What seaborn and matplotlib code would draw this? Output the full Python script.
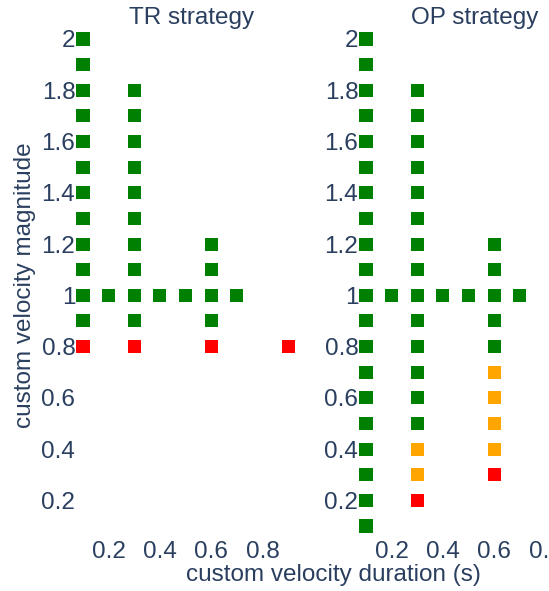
import pandas as pd
import matplotlib
matplotlib.use("Agg")
import matplotlib.pyplot as plt
import seaborn as sns

# TR strategy: one list of magnitudes per duration and outcome
TR_DURATIONS = [0.1, 0.2, 0.3, 0.4, 0.5, 0.6, 0.7, 0.9]
TR_OK = [
    [0.9, 1.0, 1.1, 1.2, 1.3, 1.4, 1.5, 1.6, 1.7, 1.8, 1.9, 2.0],
    [1.0],
    [0.9, 1.0, 1.1, 1.2, 1.3, 1.4, 1.5, 1.6, 1.7, 1.8],
    [1.0],
    [1.0],
    [0.9, 1.0, 1.1, 1.2],
    [1.0],
    [],
]
TR_WARN = [[], [], [], [], [], [], [], []]
TR_FAIL = [[0.8], [], [0.8], [], [], [0.8], [], [0.8]]

# OP strategy
OP_DURATIONS = [0.1, 0.2, 0.3, 0.4, 0.5, 0.6, 0.7]
OP_OK = [
    [0.1, 0.2, 0.3, 0.4, 0.5, 0.6, 0.7, 0.8, 0.9, 1.0,
     1.1, 1.2, 1.3, 1.4, 1.5, 1.6, 1.7, 1.8, 1.9, 2.0],
    [1.0],
    [0.5, 0.6, 0.7, 0.8, 0.9, 1.0, 1.1, 1.2, 1.3, 1.4, 1.5, 1.6, 1.7, 1.8],
    [1.0],
    [1.0],
    [0.8, 0.9, 1.0, 1.1, 1.2],
    [1.0],
]
OP_WARN = [[], [], [0.3, 0.4], [], [], [0.4, 0.5, 0.6, 0.7], []]
OP_FAIL = [[], [], [0.2], [], [], [0.3], []]

TICKS_X = [0.2, 0.4, 0.6, 0.8]
TICKS_Y = [0.2, 0.4, 0.6, 0.8, 1.0, 1.2, 1.4, 1.6, 1.8, 2.0]

COLORS = {"ok": "#008000", "warn": "#FFA500", "fail": "#FF0000"}
TEXT = "#2a3f5f"
FS = 17.5


def to_frame(durations, ok, warn, fail):
    rows = []
    for i, d in enumerate(durations):
        for status, lists in (("ok", ok), ("warn", warn), ("fail", fail)):
            for m in lists[i]:
                rows.append({"duration": d, "magnitude": m, "status": status})
    return pd.DataFrame(rows)


tr = to_frame(TR_DURATIONS, TR_OK, TR_WARN, TR_FAIL)
op = to_frame(OP_DURATIONS, OP_OK, OP_WARN, OP_FAIL)

sns.set_style("white")
plt.rcParams["font.family"] = ["Liberation Sans", "DejaVu Sans"]

W, H = 549, 591
fig = plt.figure(figsize=(W / 100, H / 100), dpi=100)

# axes boxes in pixels: left, top, right, bottom
boxes = [(75.3, 31.3, 308.7, 533.7), (358.3, 31.3, 591.7, 533.7)]
panels = [(tr, "TR strategy"), (op, "OP strategy")]

for (l, t, r, b), (df, title) in zip(boxes, panels):
    ax = fig.add_axes([l / W, 1 - b / H, (r - l) / W, (b - t) / H])
    sns.scatterplot(data=df, x="duration", y="magnitude", hue="status",
                    palette=COLORS, marker="s", s=88, linewidth=0,
                    legend=False, ax=ax, clip_on=False)
    ax.set_xlim(0.07, 0.98)
    ax.set_ylim(0.07, 2.03)
    ax.set_xticks(TICKS_X)
    ax.set_xticklabels([f"{v:g}" for v in TICKS_X])
    ax.set_yticks(TICKS_Y)
    ax.set_yticklabels([f"{v:g}" for v in TICKS_Y])
    ax.tick_params(length=0, labelsize=FS, colors=TEXT)
    ax.tick_params(axis="y", pad=0)
    ax.tick_params(axis="x", pad=5)
    for s in ax.spines.values():
        s.set_visible(False)
    ax.set_xlabel("")
    ax.set_ylabel("")
    ax.set_title(title, fontsize=FS, color=TEXT, pad=5)

fig.text(25 / W, 1 - 285 / H, "custom velocity magnitude", rotation=90,
         ha="center", va="center", fontsize=FS, color=TEXT)
fig.text(333.5 / W, 1 - 575 / H, "custom velocity duration (s)",
         ha="center", va="center", fontsize=FS, color=TEXT)

fig.savefig("out.png", dpi=100)
